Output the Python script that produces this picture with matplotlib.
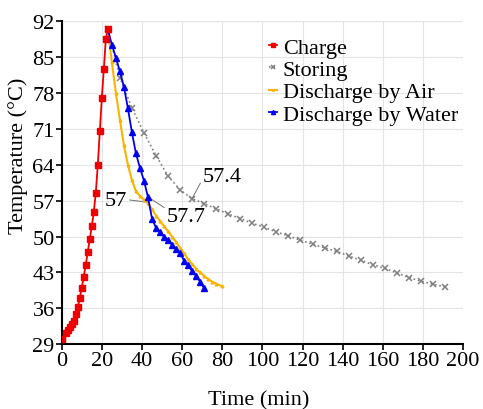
import matplotlib
matplotlib.use("Agg")
from matplotlib import pyplot as plt

# data
charge_time = [0, 2, 3, 4, 5, 6, 7, 8, 9, 10, 11, 12, 13, 14, 15, 16, 17, 18, 19, 20, 21, 22, 23]
charge_temp = [30.0, 31.2, 31.7, 32.3, 32.9, 33.6, 34.9, 36.2, 38.0, 40.0, 42.2, 44.5, 47.0,
               49.5, 52.0, 54.8, 58.5, 64.0, 70.5, 77.0, 82.6, 88.6, 90.4]

storing_time = [23, 29, 35, 41, 47, 53, 59, 65, 71, 77, 83, 89, 95, 101, 107, 113, 119, 125,
                131, 137, 143, 149, 155, 161, 167, 173, 179, 185, 191]
storing_temp = [90.4, 81.0, 75.1, 70.2, 65.8, 61.8, 59.1, 57.4, 56.4, 55.4, 54.4, 53.5, 52.6,
                51.8, 50.9, 50.1, 49.3, 48.5, 47.8, 47.1, 46.2, 45.4, 44.5, 43.8, 42.9, 42.0,
                41.3, 40.7, 40.2]

air_time = [23, 25, 27, 29, 31, 33, 35, 37, 39, 41, 43, 45, 47, 49, 51, 53, 55, 57, 59, 61,
            63, 65, 67, 69, 71, 73, 75, 77, 80]
air_temp = [90.4, 84.0, 78.0, 72.8, 67.8, 64.0, 61.0, 58.8, 57.9, 57.2, 56.5, 55.3, 54.1,
            53.0, 52.0, 51.0, 50.0, 48.9, 47.8, 46.7, 45.6, 44.6, 43.7, 43.0, 42.3, 41.7,
            41.2, 40.8, 40.3]

water_time = [23, 25, 27, 29, 31, 33, 35, 37, 39, 41, 43, 45, 47, 49, 51, 53, 55, 57, 59, 61,
              63, 65, 67, 69, 71]
water_temp = [90.4, 87.4, 84.9, 82.2, 79.2, 75.0, 70.3, 66.2, 63.4, 60.9, 57.7, 53.5, 51.7,
              50.9, 50.0, 49.3, 48.4, 47.6, 46.8, 45.3, 44.4, 43.3, 42.3, 41.2, 39.9]

x_ticks = [0, 20, 40, 60, 80, 100, 120, 140, 160, 180, 200]
y_ticks = [29, 36, 43, 50, 57, 64, 71, 78, 85, 92]

plt.rcParams['font.family'] = ['Liberation Serif', 'DejaVu Serif']
plt.rcParams['font.size'] = 16

fig = plt.figure(figsize=(4.83, 4.10), dpi=100)
ax = fig.add_axes([0.1277, 0.158, 0.831, 0.788])

ax.plot(storing_time, storing_temp, color='#808080', ls=':', lw=1.2, marker='x',
        ms=5, mew=1.1, label='Storing', zorder=3)
ax.plot(air_time, air_temp, color='#F7B500', lw=1.5, marker='^', ms=2, label='Discharge by Air', zorder=4)
ax.plot(water_time, water_temp, color='#0000EE', lw=1.3, marker='^', ms=5, label='Discharge by Water', zorder=5)
ax.plot(charge_time, charge_temp, color='#EE0000', lw=1.3, marker='s', ms=4.5, label='Charge', zorder=6)

ax.set_xlim(0, 200)
ax.set_ylim(29, 92)
ax.set_xticks(x_ticks)
ax.set_yticks(y_ticks)
ax.grid(True, color='#E4E4E4', lw=0.8)
ax.set_axisbelow(True)
for s in ['top', 'right']:
    ax.spines[s].set_visible(False)
for s in ['left', 'bottom']:
    ax.spines[s].set_linewidth(1.5)
ax.tick_params(length=4, width=1.2, pad=1)

ax.set_xlabel('Time (min)')
ax.set_ylabel('Temperature (°C)')
ax.xaxis.set_label_coords(0.49, -0.143)
ax.yaxis.set_label_coords(-0.084, 0.585)

line_kw = dict(arrowstyle='-', color='#707070', lw=0.7, shrinkA=0, shrinkB=0)
ax.annotate('57.4', xy=(65, 57.4), xytext=(70.5, 61.8), va='center', ha='left',
            arrowprops=dict(relpos=(0, 0.4), **line_kw))
ax.annotate('57', xy=(43, 56.7), xytext=(32.5, 57.0), va='center', ha='right',
            arrowprops=dict(relpos=(1, 0.55), **line_kw))
ax.annotate('57.7', xy=(43, 57.7), xytext=(52.5, 54.0), va='center', ha='left',
            arrowprops=dict(relpos=(0, 0.85), **line_kw))

handles, labels = ax.get_legend_handles_labels()
order = [3, 0, 1, 2]
ax.legend([handles[i] for i in order], [labels[i] for i in order],
          loc='upper left', bbox_to_anchor=(0.49, 0.985), frameon=False,
          handlelength=0.35, handletextpad=0.25, labelspacing=0.08, borderpad=0,
          markerscale=0.6)

fig.savefig('out.png', dpi=100)
